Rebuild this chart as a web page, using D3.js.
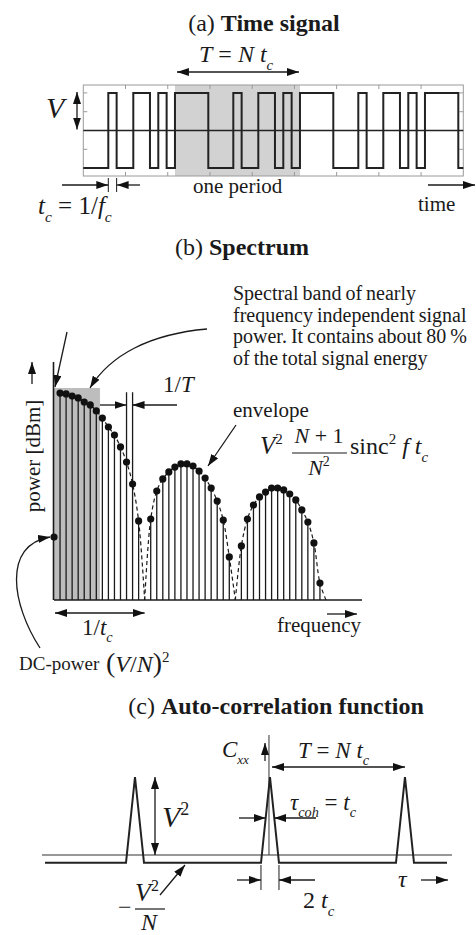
<!DOCTYPE html>
<html>
<head>
<meta charset="utf-8">
<script src="https://cdn.jsdelivr.net/npm/d3@7"></script>
<style>
  html, body { margin: 0; padding: 0; background: #fff; }
  svg { display: block; }
  text { font-family: "Liberation Serif", "Times New Roman", serif; fill: #1a1a1a; }
</style>
</head>
<body>
<svg id="fig" width="476" height="935"></svg>
<script>
// ---- data --------------------------------------------------------------
// One period of the maximal-length chip sequence (N = 15)
const chipSeq = [1, 1, 1, 1, 0, 0, 0, 1, 0, 0, 1, 1, 0, 1, 0];
const chipStart = 4;          // sequence index of the first chip in the window
const windowChips = 45.6;     // length of the time window in chips
const periodFrom = 11, periodTo = 26;   // highlighted period (chip index)
const timeTicks = [1, 2, 3, 4, 5, 6, 7, 8];
const ampTicks = [-1, -0.5, 0.5, 1];

// Spectral line power (relative dB above the plot floor), line k = 0..45 (k/T)
const specLevel = [29.7, 97.6, 97.2, 96.2, 95.3, 93.4, 92.0, 89.2, 85.8, 81.6,
  77.8, 72.2, 65.1, 54.7, 37.3, 0, 38.2, 51.4, 57.1, 60.4,
  62.7, 64.2, 64.2, 63.2, 60.8, 57.5, 52.8, 46.7, 37.7, 20.3,
  0, 25.5, 38.2, 44.8, 48.6, 50.9, 52.8, 52.8, 51.9, 50.0,
  47.2, 42.5, 36.8, 26.9, 8.0, 0];
const linesPerLobe = 15;      // N lines per 1/tc
const flatBandEdge = 7.6;     // edge of the nearly flat band (units of 1/T)
const dimLines = [12, 13];    // lines used for the 1/T dimension

// Auto-correlation: peak lags (chips), peak and floor levels (units of V^2)
const acfLags = [-15, 0, 15];
const acfPeak = 1;
const acfFloor = -0.1;
const lagDomain = [-25, 19.67];

// ---- helpers -----------------------------------------------------------
const svg = d3.select("#fig");
svg.append("rect").attr("width", 476).attr("height", 935).attr("fill", "#fff");

const defs = svg.append("defs");
defs.append("marker")
  .attr("id", "ah").attr("viewBox", "0 0 12 8")
  .attr("refX", 12).attr("refY", 4)
  .attr("markerWidth", 12).attr("markerHeight", 8)
  .attr("markerUnits", "userSpaceOnUse")
  .attr("orient", "auto-start-reverse")
  .append("path").attr("d", "M0,0 L12,4 L0,8 Z").attr("fill", "#111");

const ink = "#1a1a1a";

function arrow(g, x1, y1, x2, y2, both) {
  const l = g.append("line").attr("x1", x1).attr("y1", y1).attr("x2", x2).attr("y2", y2)
    .attr("stroke", ink).attr("stroke-width", 1.3).attr("marker-end", "url(#ah)");
  if (both) l.attr("marker-start", "url(#ah)");
  return l;
}
function seg(g, x1, y1, x2, y2, w, col) {
  return g.append("line").attr("x1", x1).attr("y1", y1).attr("x2", x2).attr("y2", y2)
    .attr("stroke", col || ink).attr("stroke-width", w || 1.2);
}
// rich text: parts {t, i (italic), b (bold), sub, sup, size}
function rich(g, x, y, size, parts, anchor) {
  const t = g.append("text").attr("x", x).attr("y", y).attr("font-size", size)
    .attr("text-anchor", anchor || "start");
  let shift = 0;
  parts.forEach(p => {
    const s = t.append("tspan").text(p.t);
    if (p.i) s.attr("font-style", "italic");
    if (p.b) s.attr("font-weight", "bold");
    const target = p.sub ? size * 0.32 : p.sup ? -size * 0.4 : 0;
    if (target !== shift) { s.attr("dy", target - shift); shift = target; }
    if (p.sub || p.sup) s.attr("font-size", size * 0.62);
    if (p.size) s.attr("font-size", p.size);
    if (p.dx) s.attr("dx", p.dx);
  });
  return t;
}

// ---- (a) time signal ---------------------------------------------------
const gA = svg.append("g");
rich(gA, 264, 31, 24, [{t: "(a) "}, {t: "Time signal", b: true}], "middle");

const xT = d3.scaleLinear().domain([0, windowChips]).range([83.3, 463.3]);
const xTick = d3.scaleLinear().domain([0, 9]).range([83.3, 463.3]);
const yV = d3.scaleLinear().domain([-1.21, 1.21]).range([176, 85]);

gA.append("rect").attr("x", xT(periodFrom)).attr("y", yV(1.21))
  .attr("width", xT(periodTo) - xT(periodFrom)).attr("height", yV(-1.21) - yV(1.21))
  .attr("fill", "#d2d2d2");
gA.append("rect").attr("x", xT(0)).attr("y", yV(1.21))
  .attr("width", xT(windowChips) - xT(0)).attr("height", yV(-1.21) - yV(1.21))
  .attr("fill", "none").attr("stroke", "#9a9a9a").attr("stroke-width", 1);
timeTicks.forEach(t => {
  seg(gA, xTick(t), yV(1.21), xTick(t), yV(1.21) + 4, 1, "#9a9a9a");
  seg(gA, xTick(t), yV(-1.21), xTick(t), yV(-1.21) - 4, 1, "#9a9a9a");
});
ampTicks.forEach(a => {
  seg(gA, xT(0), yV(a), xT(0) + 4, yV(a), 1, "#9a9a9a");
  seg(gA, xT(windowChips), yV(a), xT(windowChips) - 4, yV(a), 1, "#9a9a9a");
});
seg(gA, xT(0), yV(0), xT(windowChips), yV(0), 1.6, "#222");

const chipPts = d3.range(Math.ceil(windowChips)).map(i => [i, chipSeq[(chipStart + i) % chipSeq.length] ? 1 : -1]);
chipPts.push([windowChips, chipPts[chipPts.length - 1][1]]);
gA.append("path")
  .attr("d", d3.line().x(d => xT(d[0])).y(d => yV(d[1])).curve(d3.curveStepAfter)(chipPts))
  .attr("fill", "none").attr("stroke", "#222").attr("stroke-width", 2);

arrow(gA, xT(periodFrom) + 2, 72, xT(periodTo) - 1, 72, true);
rich(gA, 199, 62, 24, [{t: "T", i: true}, {t: " = "}, {t: "N", i: true}, {t: " "}, {t: "t", i: true}, {t: "c", i: true, sub: true}]);

arrow(gA, 77, yV(0) - 1, 77, yV(1) - 1, true);
rich(gA, 46, 118, 30, [{t: "V", i: true}]);

// chip width dimension
seg(gA, xT(3), 178, xT(3), 192, 1);
seg(gA, xT(4), 178, xT(4), 192, 1);
arrow(gA, 62, 185, xT(3), 185);
arrow(gA, 140, 185, xT(4), 185);
rich(gA, 38, 214, 25, [{t: "t", i: true}, {t: "c", i: true, sub: true}, {t: " = 1/"}, {t: "f", i: true}, {t: "c", i: true, sub: true}]);
rich(gA, 193, 193, 21, [{t: "one period"}]);
arrow(gA, 428, 185, 475, 185);
rich(gA, 418, 211, 21, [{t: "time"}]);

// ---- (b) spectrum ------------------------------------------------------
const gB = svg.append("g");
rich(gB, 242, 255, 24, [{t: "(b) "}, {t: "Spectrum", b: true}], "middle");

const xF = d3.scaleLinear().domain([0, 45]).range([54, 326]);
const yS = d3.scaleLinear().domain([0, 100]).range([600, 388]);

gB.append("rect").attr("x", xF(0) - 1).attr("y", yS(100))
  .attr("width", xF(flatBandEdge) - xF(0) + 1).attr("height", yS(0) - yS(100))
  .attr("fill", "#bdbdbd");

const spec = specLevel.map((v, k) => ({k, v}));
// stems
gB.selectAll("line.stem").data(spec.filter(d => d.k > 0 && d.v > 0)).join("line")
  .attr("class", "stem")
  .attr("x1", d => xF(d.k)).attr("x2", d => xF(d.k))
  .attr("y1", yS(0)).attr("y2", d => dimLines.includes(d.k) ? yS(98) : yS(d.v))
  .attr("stroke", ink).attr("stroke-width", 1.3);

// envelope, one dashed piece per lobe
const lobes = [0, 1, 2].map(j => spec.filter(d => d.k >= Math.max(1, j * linesPerLobe) && d.k <= (j + 1) * linesPerLobe));
const env = d3.line().x(d => xF(d.k)).y(d => yS(d.v)).curve(d3.curveCatmullRom.alpha(0.5));
gB.selectAll("path.env").data(lobes).join("path")
  .attr("class", "env").attr("d", env)
  .attr("fill", "none").attr("stroke", ink).attr("stroke-width", 1.2)
  .attr("stroke-dasharray", "4,3");

// axes
seg(gB, xF(0), yS(0), 362, yS(0), 1.6);
seg(gB, xF(0) - 0.5, 362, xF(0) - 0.5, yS(0), 1.6);

// line markers
gB.selectAll("circle.dot").data(spec.filter(d => d.v > 0)).join("circle")
  .attr("class", "dot").attr("cx", d => xF(d.k)).attr("cy", d => yS(d.v))
  .attr("r", 3.6).attr("fill", "#111");

// 1/T dimension
arrow(gB, 100, 405, xF(dimLines[0]), 405);
arrow(gB, 177, 405, xF(dimLines[1]), 405);
rich(gB, 163, 392, 23, [{t: "1/"}, {t: "T", i: true}]);

// power axis label
arrow(gB, 32, 384, 32, 362);
gB.append("text").attr("transform", "translate(40,456) rotate(-90)")
  .attr("text-anchor", "middle").attr("font-size", 21).text("power [dBm]");

// annotation of the flat band
[["Spectral band of nearly", 300], ["frequency independent signal", 322],
 ["power. It contains about 80 %", 343], ["of the total signal energy", 365]]
  .forEach(([s, y]) => rich(gB, 233, y, 20, [{t: s}]).attr("word-spacing", -1));
arrow(gB, 67, 332, 55, 387);
gB.append("path").attr("d", "M207,329 C150,334 110,355 90,388")
  .attr("fill", "none").attr("stroke", ink).attr("stroke-width", 1.3)
  .attr("marker-end", "url(#ah)");

// envelope label and formula
rich(gB, 233, 417, 21, [{t: "envelope"}]);
arrow(gB, 236, 425, 208, 466);
rich(gB, 260, 454, 25, [{t: "V", i: true}, {t: "2", sup: true, size: 15}]);
rich(gB, 319, 443, 22, [{t: "N", i: true}, {t: " + 1"}], "middle");
seg(gB, 292, 453, 347, 453, 1.2);
rich(gB, 319, 475, 22, [{t: "N", i: true}, {t: "2", sup: true, size: 14}], "middle");
rich(gB, 350, 454, 24, [{t: "sinc"}, {t: "2", sup: true, size: 15}, {t: " "}, {t: "f", i: true}, {t: " "}, {t: "t", i: true}, {t: "c", i: true, sub: true}]);

// 1/tc and frequency
arrow(gB, xF(0) + 1, 613, xF(linesPerLobe), 613, true);
rich(gB, 82, 635, 23, [{t: "1/"}, {t: "t", i: true}, {t: "c", i: true, sub: true}]);
arrow(gB, 327, 614, 357, 614);
rich(gB, 277, 632, 21, [{t: "frequency"}]);

// DC power
gB.append("path").attr("d", "M40,648 C12,605 2,545 50,537")
  .attr("fill", "none").attr("stroke", ink).attr("stroke-width", 1.3)
  .attr("marker-end", "url(#ah)");
rich(gB, 19, 670, 19, [{t: "DC-power"}]);
rich(gB, 106, 672, 24, [{t: "(", size: 28}, {t: "V", i: true}, {t: "/"}, {t: "N", i: true}, {t: ")", size: 28}, {t: "2", sup: true, size: 15}]);

// ---- (c) auto-correlation ----------------------------------------------
const gC = svg.append("g");
rich(gC, 276, 714, 24, [{t: "(c) "}, {t: "Auto-correlation function", b: true}], "middle");

const xL = d3.scaleLinear().domain(lagDomain).range([45, 447]);
const yC = d3.scaleLinear().domain([0, 1]).range([855, 777]);

seg(gC, 42, yC(0), 452, yC(0), 1.1, "#333");
seg(gC, xL(0) - 1, 735, xL(0) - 1, yC(0), 1, "#333");

const acfPts = [[lagDomain[0], acfFloor]];
acfLags.forEach(L => { acfPts.push([L - 1, acfFloor], [L, acfPeak], [L + 1, acfFloor]); });
acfPts.push([lagDomain[1], acfFloor]);
gC.append("path")
  .attr("d", d3.line().x(d => xL(d[0])).y(d => yC(d[1]))(acfPts))
  .attr("fill", "none").attr("stroke", "#222").attr("stroke-width", 2);

// C_xx label
arrow(gC, 265, 761, 265, 743);
rich(gC, 222, 757, 23, [{t: "C", i: true}, {t: "xx", i: true, sub: true, size: 13}]);
// period
arrow(gC, xL(0) + 2, 767, xL(15), 767, true);
rich(gC, 298, 758, 23, [{t: "T", i: true}, {t: " = "}, {t: "N", i: true}, {t: " "}, {t: "t", i: true}, {t: "c", i: true, sub: true}]);
// V^2 height
arrow(gC, 155, yC(0), 155, yC(acfPeak), true);
rich(gC, 162, 827, 30, [{t: "V", i: true}, {t: "2", sup: true, size: 18}]);
// coherence time
const yHalf = 818;
const legOff = (yHalf - yC(acfPeak)) / (yC(acfFloor) - yC(acfPeak));
arrow(gC, 239, yHalf, xL(-legOff), yHalf);
arrow(gC, 316, yHalf, xL(legOff), yHalf);
rich(gC, 290, 810, 23, [{t: "τ", i: true}, {t: "coh", i: true, sub: true}, {t: " = "}, {t: "t", i: true}, {t: "c", i: true, sub: true}]);
// 2 tc base width
seg(gC, xL(-1), 865, xL(-1), 890, 1);
seg(gC, xL(1), 865, xL(1), 890, 1);
arrow(gC, 237, 880, xL(-1), 880);
arrow(gC, 315, 880, xL(1), 880);
rich(gC, 303, 908, 24, [{t: "2 "}, {t: "t", i: true}, {t: "c", i: true, sub: true}]);
// lag axis
rich(gC, 398, 887, 24, [{t: "τ", i: true}]);
arrow(gC, 421, 880, 448, 880);
// floor level
arrow(gC, 160, 895, 185, 865);
rich(gC, 118, 915, 24, [{t: "−"}]);
rich(gC, 135, 901, 26, [{t: "V", i: true}, {t: "2", sup: true, size: 16}]);
seg(gC, 135, 909, 165, 909, 1.2);
rich(gC, 141, 930, 24, [{t: "N", i: true}]);
</script>
</body>
</html>
